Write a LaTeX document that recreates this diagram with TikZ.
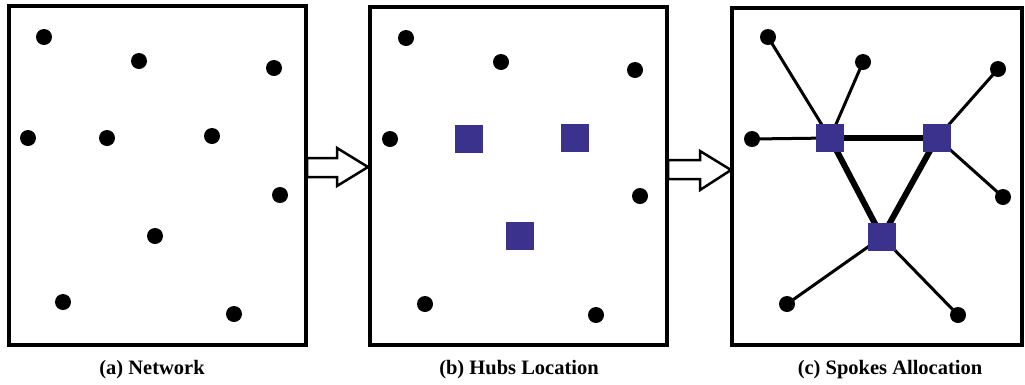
\documentclass[tikz,border=0pt]{standalone}
\usepackage{fontspec}
\setmainfont{Liberation Serif}
\usetikzlibrary{backgrounds}
\definecolor{hubblue}{RGB}{58,50,140}
\begin{document}
\begin{tikzpicture}[x=1pt,y=-1pt,
  panel/.style={draw=black,line width=3.2pt},
  site/.style={circle,fill=black,inner sep=0pt,minimum size=16pt},
  hub/.style={rectangle,fill=hubblue,inner sep=0pt,minimum size=28pt},
  spoke/.style={line width=3pt},
  trunk/.style={line width=6pt},
  blockarrow/.style={draw=black,fill=white,line width=2.5pt,line join=miter},
  caption/.style={font=\bfseries\fontsize{20.5}{24}\selectfont,inner sep=0pt}]
\useasboundingbox (0,0) rectangle (1025,384);

% panel frames
\draw[panel] (9,6) rectangle (306,345);
\draw[panel] (370,7) rectangle (667,345);
\draw[panel] (732,8) rectangle (1022,345);

% transition arrows between panels
\draw[blockarrow] (307,158) -- (337,158) -- (337,148) -- (368,167)
  -- (337,186) -- (337,177) -- (307,177) -- cycle;
\draw[blockarrow] (668,160) -- (700,160) -- (700,151) -- (731,170)
  -- (700,190) -- (700,179) -- (668,179) -- cycle;

% (a) network of demand sites
\node[site] (a1) at (44,37) {};
\node[site] (a2) at (139,61) {};
\node[site] (a3) at (274,68) {};
\node[site] (a4) at (28,138) {};
\node[site] (a5) at (107,138) {};
\node[site] (a6) at (212,136) {};
\node[site] (a7) at (280,195) {};
\node[site] (a8) at (155,236) {};
\node[site] (a9) at (63,302) {};
\node[site] (a10) at (234,314) {};

% (b) hubs located among the sites
\node[site] (b1) at (406,38) {};
\node[site] (b2) at (501,62) {};
\node[site] (b3) at (635,70) {};
\node[site] (b4) at (390,139) {};
\node[site] (b5) at (640,196) {};
\node[site] (b6) at (425,304) {};
\node[site] (b7) at (596,315) {};
\node[hub] (bh1) at (469,139) {};
\node[hub] (bh2) at (575,138) {};
\node[hub] (bh3) at (520,236) {};

% (c) spokes allocated to hubs
\node[site] (c1) at (768,37) {};
\node[site] (c2) at (863,62) {};
\node[site] (c3) at (998,69) {};
\node[site] (c4) at (752,139) {};
\node[site] (c5) at (1003,197) {};
\node[site] (c6) at (787,304) {};
\node[site] (c7) at (958,315) {};
\node[hub] (ch1) at (830,138) {};
\node[hub] (ch2) at (937,138) {};
\node[hub] (ch3) at (882,237) {};

% links drawn behind the hubs and sites
\begin{scope}[on background layer]
\draw[trunk] (ch1.center) -- (ch2.center);
\draw[trunk] (ch1.center) -- (ch3.center);
\draw[trunk] (ch2.center) -- (ch3.center);
\draw[spoke] (c1.center) -- (ch1.center);
\draw[spoke] (c2.center) -- (ch1.center);
\draw[spoke] (c4.center) -- (ch1.center);
\draw[spoke] (c3.center) -- (ch2.center);
\draw[spoke] (c5.center) -- (ch2.center);
\draw[spoke] (c6.center) -- (ch3.center);
\draw[spoke] (c7.center) -- (ch3.center);
\end{scope}

% captions
\node[caption] (capa) at (152,370) {(a) Network};
\node[caption] (capb) at (519,370) {(b) Hubs Location};
\node[caption] (capc) at (890,370) {(c) Spokes Allocation};
\end{tikzpicture}
\end{document}
